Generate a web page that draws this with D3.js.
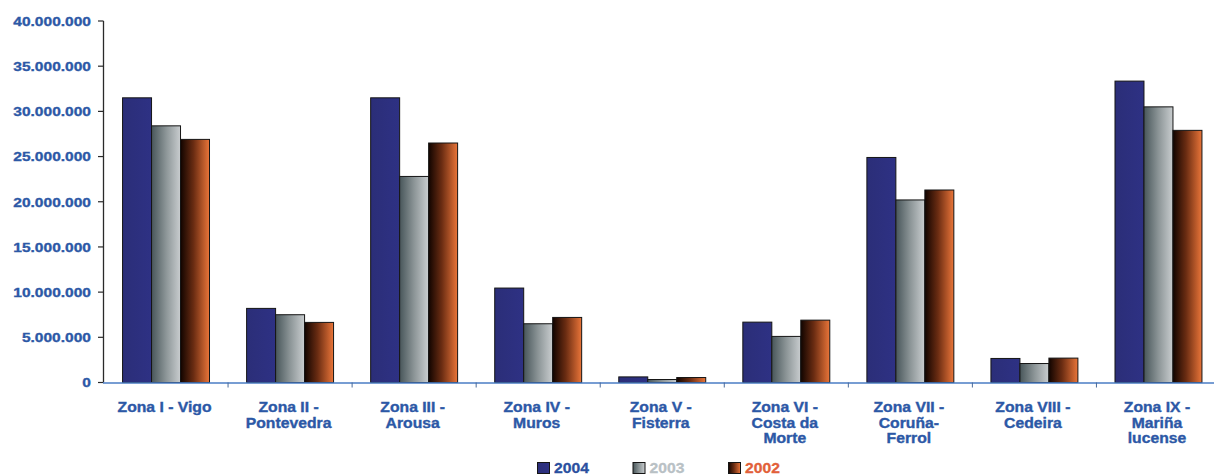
<!DOCTYPE html>
<html><head><meta charset="utf-8">
<script src="https://cdn.jsdelivr.net/npm/d3@7"></script>
<style>
html,body{margin:0;padding:0;background:#fff;}
svg{display:block;}
text{font-family:"Liberation Sans",Arial,sans-serif;font-weight:bold;}
</style></head><body>
<svg id="c" width="1214" height="476"></svg>
<script>
const categories = [
  ["Zona I - Vigo"],
  ["Zona II -","Pontevedra"],
  ["Zona III -","Arousa"],
  ["Zona IV -","Muros"],
  ["Zona V -","Fisterra"],
  ["Zona VI -","Costa da","Morte"],
  ["Zona VII -","Coruña-","Ferrol"],
  ["Zona VIII -","Cedeira"],
  ["Zona IX -","Mariña","lucense"]
];
const series = ["2004","2003","2002"];
const values2004 = [31500000, 8200000, 31500000, 10450000, 620000, 6680000, 24900000, 2660000, 33350000];
const values2003 = [28400000, 7500000, 22800000, 6500000, 330000, 5100000, 20200000, 2100000, 30500000];
const values2002 = [26900000, 6650000, 26500000, 7200000, 550000, 6900000, 21300000, 2700000, 27900000];
const yTicks = [0,5000000,10000000,15000000,20000000,25000000,30000000,35000000,40000000];

const svg = d3.select("#c");
const defs = svg.append("defs");
function grad(id, stops){
  const g = defs.append("linearGradient").attr("id",id).attr("x1","0%").attr("x2","100%").attr("y1","0%").attr("y2","0%");
  stops.forEach(s=>g.append("stop").attr("offset",s[0]).attr("stop-color",s[1]));
}
grad("gBlue",[["0%","#2b2e78"],["100%","#2e3184"]]);
grad("gGray",[["0%","#48565a"],["50%","#8c9597"],["100%","#c9cdcf"]]);
grad("gOrange",[["0%","#110400"],["45%","#6a2c12"],["100%","#ea7539"]]);
const fills = {"2004":"url(#gBlue)","2003":"url(#gGray)","2002":"url(#gOrange)"};
const legendText = {"2004":"#2b4fa0","2003":"#b9c1c5","2002":"#e2603a"};
const data = {"2004":values2004,"2003":values2003,"2002":values2002};

const x0 = d3.scaleBand().domain(d3.range(categories.length)).range([104, 1220.5]).paddingInner(0).paddingOuter(0);
const x1 = d3.scaleBand().domain(series).range([0, x0.bandwidth()]).paddingOuter(0.64).paddingInner(0);
const y = d3.scaleLinear().domain([0,40000000]).range([382.5,21]);

const labelColor = "#2c58a6";
const fmt = v => d3.format(",")(v).replace(/,/g,".");

// y axis
const ya = svg.append("g");
ya.append("line").attr("x1",103.5).attr("x2",103.5).attr("y1",y(40000000)).attr("y2",y(0)).attr("stroke","#2a2a2a").attr("stroke-width",1.3);
yTicks.forEach(t=>{
  ya.append("line").attr("x1",98).attr("x2",103.5).attr("y1",y(t)).attr("y2",y(t)).attr("stroke","#2a2a2a").attr("stroke-width",1.2);
  ya.append("g").attr("transform",`translate(91,${y(t)}) scale(1.16,1)`)
    .append("text").attr("text-anchor","end").attr("dy","0.36em").attr("font-size",13.4)
    .attr("fill",labelColor).attr("stroke",labelColor).attr("stroke-width",0.35).text(fmt(t));
});

// bars
categories.forEach((c,i)=>{
  const g = svg.append("g").attr("transform",`translate(${x0(i)},0)`);
  series.forEach(s=>{
    const v = data[s][i];
    g.append("rect").attr("x",x1(s)).attr("width",x1.bandwidth()).attr("y",y(v)).attr("height",y(0)-y(v))
      .attr("fill",fills[s]).attr("stroke","#151515").attr("stroke-width",1);
  });
});

// x axis
const xa = svg.append("g");
xa.append("line").attr("x1",103).attr("x2",1214).attr("y1",y(0)+0.5).attr("y2",y(0)+0.5).attr("stroke","#4a7cc4").attr("stroke-width",1.6);
d3.range(1,categories.length).forEach(i=>{
  xa.append("line").attr("x1",x0(i)).attr("x2",x0(i)).attr("y1",y(0)).attr("y2",y(0)+5).attr("stroke","#4a6a9a").attr("stroke-width",1);
});
categories.forEach((c,i)=>{
  const cx = x0(i)+x0.bandwidth()/2 - 1.5;
  c.forEach((line,k)=>{
    svg.append("g").attr("transform",`translate(${cx},${412+k*15.7}) scale(1.14,1)`)
      .append("text").attr("text-anchor","middle").attr("font-size",13.8)
      .attr("fill",labelColor).attr("stroke",labelColor).attr("stroke-width",0.35).text(line);
  });
});

// legend
const legX = [537, 632.5, 728];
series.forEach((s,i)=>{
  const g = svg.append("g").attr("transform",`translate(${legX[i]},462)`);
  g.append("rect").attr("x",0.5).attr("y",0.5).attr("width",12).attr("height",11).attr("fill",fills[s]).attr("stroke","#151515").attr("stroke-width",1);
  g.append("g").attr("transform","translate(17,11) scale(1.12,1)")
    .append("text").attr("font-size",14).attr("fill",legendText[s]).attr("stroke",legendText[s]).attr("stroke-width",0.3).text(s);
});
</script>
</body></html>
